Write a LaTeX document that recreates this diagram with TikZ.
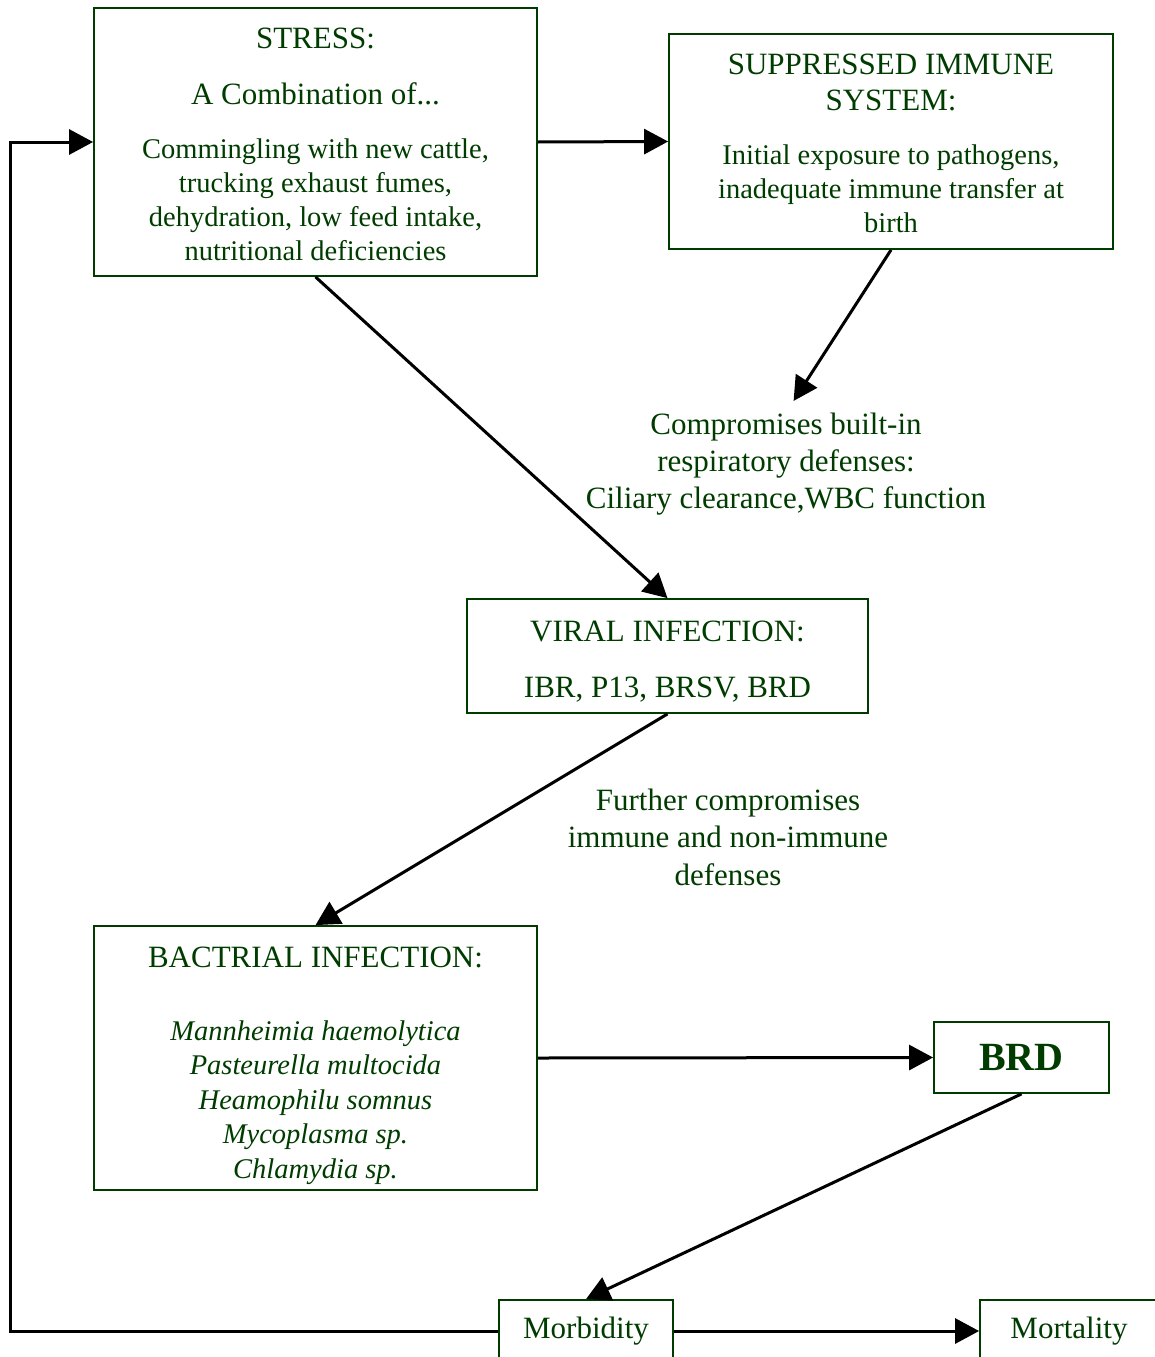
\documentclass[tikz,border=0pt]{standalone}
\usepackage{fontspec}
\setmainfont{Liberation Serif}
\usetikzlibrary{arrows.meta,positioning}
\definecolor{brdGreen}{RGB}{0,60,0}
\newcommand{\fs}[2]{\fontsize{#1}{#2}\selectfont}
\newcommand{\toprise}[1]{\rule{0pt}{#1}}
\tikzset{
  box/.style={draw=brdGreen, line width=1.8pt, text=brdGreen, align=flush center, inner sep=0pt},
  note/.style={text=brdGreen, align=center, inner sep=0pt},
  flow/.style={line width=3pt, -{Triangle[length=24pt, width=25pt]}},
}

\begin{document}
\begin{tikzpicture}[x=1pt, y=-1pt]
    \useasboundingbox (0,0) rectangle (1155,1357);
    % Boxes
    \node[box, minimum width=443pt, minimum height=268pt, text width=436pt, font=\fs{28.5}{34}] (stress) at (315.5,142)
      {\fs{31}{34}\toprise{25pt}STRESS:\\[22pt] A Combination of...\\[20pt]\fs{28.5}{34}Commingling with new cattle,\\ trucking exhaust fumes,\\ dehydration, low feed intake,\\ nutritional deficiencies};
    \node[box, minimum width=444pt, minimum height=215pt, text width=436pt, font=\fs{28.5}{34}] (supp) at (891,141.5)
      {\fs{31}{34}\toprise{25pt}SUPPRESSED IMMUNE\\[2pt] SYSTEM:\\[20pt]\fs{28.5}{34}Initial exposure to pathogens,\\ inadequate immune transfer at\\ birth};
    \node[box, minimum width=401pt, minimum height=114pt, text width=395pt, font=\fs{31}{34}] (viral) at (667.5,656)
      {\toprise{31pt}VIRAL INFECTION:\\[22pt] IBR, P13, BRSV, BRD};
    \node[box, minimum width=443pt, minimum height=264pt, text width=436pt, font=\fs{28.5}{34.5}] (bact) at (315.5,1058)
      {\fs{31}{34.5}\toprise{36pt}BACTRIAL INFECTION:\\[38.5pt]\fs{28.5}{34.5}\itshape Mannheimia haemolytica\\ Pasteurella multocida\\ Heamophilu somnus\\ Mycoplasma sp.\\ Chlamydia sp.};
    \node[box, minimum width=175pt, minimum height=71pt, font=\fs{40}{44}\bfseries] (brd) at (1021.5,1057.5) {BRD};
    % bottom row, cut off by the page edge
    \node[box, minimum width=174pt, minimum height=62pt, font=\fs{31}{34}] (morb) at (586,1331) {Morbidity};
    \node[box, minimum width=178pt, minimum height=62pt, font=\fs{31}{34}] (mort) at (1069,1331) {Mortality};
    % free-standing notes
    \node[note, font=\fs{31}{37}] (comp) at (786,464)
      {Compromises built-in\\ respiratory defenses:\\ Ciliary clearance,WBC function};
    \node[note, font=\fs{31}{37.5}] (further) at (728,837)
      {Further compromises\\ immune and non-immune\\ defenses};
    % Arrows
    \draw[flow] (stress.east) -- (supp.west);
    \draw[flow, shorten >=14pt] (supp.south) -- (comp.north);
    \draw[flow] (stress.south) -- (viral.north);
    \draw[flow] (viral.south) -- (bact.north);
    \draw[flow] (bact.east) -- (brd.west);
    \draw[flow] (brd.south) -- (morb.north);
    \draw[flow] (morb.east) -- (mort.west);
    % feedback loop round the left side
    \coordinate (back) at (10,0);
    \draw[flow] (morb.west) -- (morb.west -| back) |- (stress.west);
\end{tikzpicture}
\end{document}
